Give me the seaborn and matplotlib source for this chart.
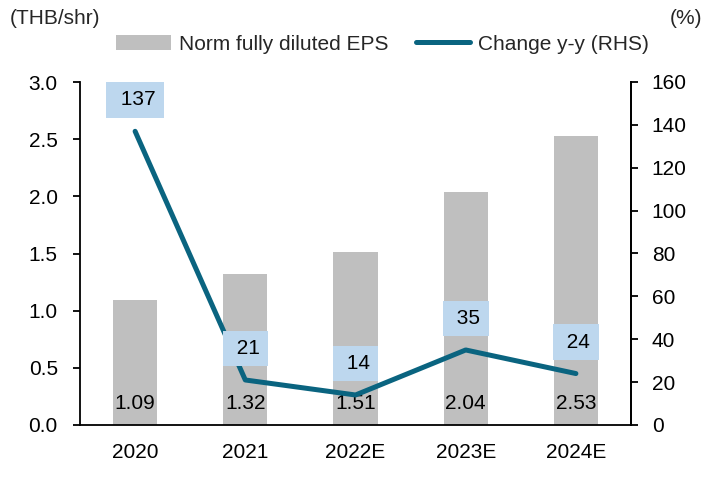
import matplotlib
matplotlib.use("Agg")
import matplotlib.pyplot as plt
import seaborn as sns
import pandas as pd
import numpy as np
from matplotlib.patches import Patch
from matplotlib.lines import Line2D

years = ["2020", "2021", "2022E", "2023E", "2024E"]
eps = [1.09, 1.32, 1.51, 2.04, 2.53]
change = [137, 21, 14, 35, 24]
left_ticks = [0.0, 0.5, 1.0, 1.5, 2.0, 2.5, 3.0]
right_ticks = [0, 20, 40, 60, 80, 100, 120, 140, 160]

sns.set_theme(style="white")
plt.rcParams['font.family'] = ['Liberation Sans', 'DejaVu Sans']

bar_color = "#BFBFBF"
line_color = "#0A6480"
box_color = "#BDD7EE"
fs = 15

fig = plt.figure(figsize=(7.19, 4.78), dpi=100)
ax = fig.add_axes([80/719, 1-425/478, (631-80)/719, (425-82)/478])
df = pd.DataFrame({"year": years, "eps": eps, "chg": change})
sns.barplot(data=df, x="year", y="eps", color=bar_color, width=0.4, ax=ax,
            saturation=1, edgecolor="none")
ax.set_ylim(0, 3.0)
ax.set_xlim(-0.5, 4.5)
ax.set_yticks(left_ticks)
ax.set_yticklabels([f"{t:.1f}" for t in left_ticks], fontsize=fs, color="black")
ax.set_xlabel("")
ax.set_ylabel("")
ax.tick_params(axis="x", which="major", length=0, labelsize=fs, pad=13, colors="black")
ax.set_xticks(np.arange(-0.5, 5, 1), minor=True)
ax.tick_params(axis="x", which="minor", length=5, width=1.3, color="black", direction="out")
ax.tick_params(axis="y", length=5, width=1.3, color="black", direction="out", left=True, pad=11)
for s in ["left", "bottom", "right"]:
    ax.spines[s].set_color("black")
    ax.spines[s].set_linewidth(1.3)
ax.spines["top"].set_visible(False)

for i, v in enumerate(eps):
    ax.text(i, 0.19, f"{v:.2f}", ha="center", va="center", fontsize=fs, color="black")

ax2 = ax.twinx()
sns.lineplot(x=list(range(len(years))), y=change, ax=ax2, color=line_color,
             linewidth=3.6, solid_capstyle="round", solid_joinstyle="round")
ax2.set_ylim(0, 160)
ax2.set_yticks(right_ticks)
ax2.set_yticklabels([str(t) for t in right_ticks], fontsize=fs, color="black")
ax2.tick_params(axis="y", length=5, width=1.3, color="black", direction="out", right=True, pad=10)
ax2.spines["top"].set_visible(False)
ax2.spines["right"].set_color("black")
ax2.spines["right"].set_linewidth(1.3)
ax2.spines["left"].set_visible(False)
ax2.spines["bottom"].set_visible(False)
ax2.set_ylabel("")

for i, v in enumerate(change):
    ax2.text(i, v + 14.7, f" {v}", ha="center", va="center", fontsize=fs, color="black",
             bbox=dict(boxstyle="square,pad=0.4", fc=box_color, ec="none"))

fig.text(10/719, 1-18/478, "(THB/shr)", fontsize=fs, ha="left", va="center")
fig.text(702/719, 1-18/478, "(%)", fontsize=fs, ha="right", va="center")

handles = [Patch(facecolor=bar_color, edgecolor="none"),
           Line2D([0], [0], color=line_color, linewidth=3.6, solid_capstyle="round")]
fig.legend(handles, ["Norm fully diluted EPS", "Change y-y (RHS)"], ncol=2,
           loc="center left", bbox_to_anchor=(106/719, 1-44/478), frameon=False, fontsize=fs,
           handlelength=2.6, handletextpad=0.4, columnspacing=1.3, borderpad=0)

fig.savefig("out.png", dpi=100)
